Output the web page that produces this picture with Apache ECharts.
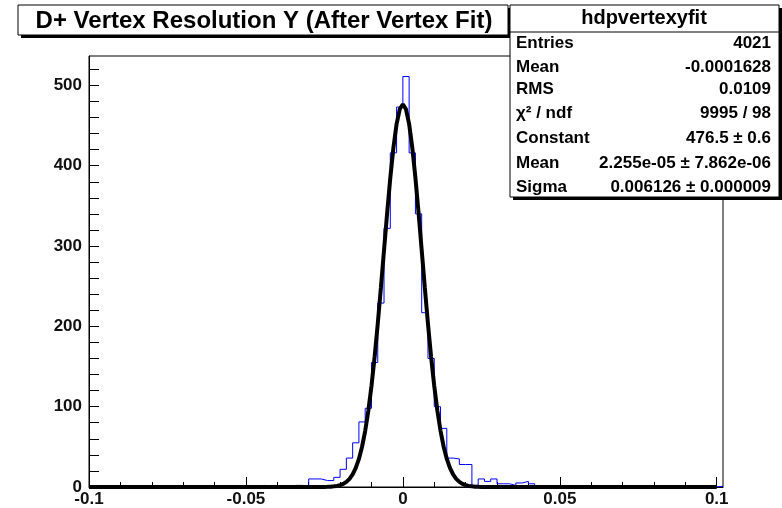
<!DOCTYPE html>
<html><head><meta charset="utf-8">
<script src="https://cdn.jsdelivr.net/npm/echarts@6/dist/echarts.min.js"></script>
<style>html,body{margin:0;padding:0;background:#fff}#c{width:782px;height:508px}</style>
</head><body><div id="c"></div>
<script>
const titleText = 'D+ Vertex Resolution Y (After Vertex Fit)';
const statsTitle = 'hdpvertexyfit';
const statsLabels = ['Entries', 'Mean', 'RMS', '\u03c7\u00b2 / ndf', 'Constant', 'Mean', 'Sigma'];
const statsValues = ['4021', '-0.0001628', '0.0109', '9995 / 98', '476.5 \u00b1 0.6', '2.255e-05 \u00b1 7.862e-06', '0.006126 \u00b1 0.000009'];

// histogram: 101 bins of width 0.002 starting at -0.1
const binLow = -0.1;
const binWidth = 0.002;
const counts = [
  0,0,0,0,0,0,0,0,0,0,
  0,0,0,0,1,0,0,0,0,0,
  0,0,0,0,0,0,0,2,0,2,
  0,0,2,2,0,10,10,8,8,12,
  22,36,55,81,98,155,229,322,416,473,
  511,416,340,217,160,100,73,36,35,28,
  28,2,10,7,10,4,4,2,5,7,
  4,0,0,0,0,0,0,0,0,0,
  0,0,0,0,0,0,0,0,0,0,
  0,0,0,0,0,0,0,0,0,0,
  1
];

// gaussian fit curve
const fitX = [-0.1,
  -0.026,-0.025,-0.024,-0.023,-0.022,-0.021,-0.020,-0.019,-0.018,-0.017,-0.016,-0.015,-0.014,
  -0.013,-0.012,-0.011,-0.010,-0.009,-0.008,-0.007,-0.006,-0.005,-0.004,-0.003,-0.002,-0.001,
  0,
  0.001,0.002,0.003,0.004,0.005,0.006,0.007,0.008,0.009,0.010,0.011,0.012,0.013,
  0.014,0.015,0.016,0.017,0.018,0.019,0.020,0.021,0.022,0.023,0.024,0.025,0.026,
  0.1];
const fitY = [0,
  0,0.1,0.2,0.4,0.8,1.3,2.3,3.9,6.4,10.1,15.7,23.8,35.0,
  50.1,70.0,95.0,125.7,161.9,203.1,248.0,294.9,341.5,385.0,422.7,451.8,470.2,
  476.5,
  470.2,451.8,422.7,385.0,341.5,294.9,248.0,203.1,161.9,125.7,95.0,70.0,50.1,
  35.0,23.8,15.7,10.1,6.4,3.9,2.3,1.3,0.8,0.4,0.2,0.1,0,
  0];

const xMajor = [-0.1, -0.05, 0, 0.05, 0.1];
const xMinor = [-0.09,-0.08,-0.07,-0.06,-0.04,-0.03,-0.02,-0.01,0.01,0.02,0.03,0.04,0.06,0.07,0.08,0.09];
const yLabels = [0, 100, 200, 300, 400, 500];
const yTicks = [0,20,40,60,80,100,120,140,160,180,200,220,240,260,280,300,320,340,360,380,400,420,440,460,480,500,520];

const FONT = 'Liberation Sans, Arial, sans-serif';

const histData = [];
for (let i = 0; i < counts.length; i++) histData.push([binLow + i * binWidth, counts[i]]);
histData.push([binLow + counts.length * binWidth, counts[counts.length - 1]]);
const fitData = fitX.map((x, i) => [x, fitY[i]]);
const xMax = binLow + counts.length * binWidth;

const graphics = [
  {type:'rect', z:100, shape:{x:21, y:8, width:490, height:30}, style:{fill:'#000'}},
  {type:'rect', z:101, shape:{x:18, y:5, width:490, height:30}, style:{fill:'#fff', stroke:'#000', lineWidth:1}},
  {type:'text', z:102, x:264, y:21, style:{text:titleText, font:'bold 24px ' + FONT, fill:'#000', align:'center', verticalAlign:'middle'}},
  {type:'rect', z:100, shape:{x:513, y:8, width:269, height:192}, style:{fill:'#000'}},
  {type:'rect', z:101, shape:{x:510, y:5, width:269, height:192}, style:{fill:'#fff', stroke:'#000', lineWidth:1}},
  {type:'line', z:102, shape:{x1:510, y1:32, x2:779, y2:32}, style:{stroke:'#000', lineWidth:1}},
  {type:'text', z:102, x:644, y:18, style:{text:statsTitle, font:'bold 20px ' + FONT, fill:'#000', align:'center', verticalAlign:'middle'}}
];
const rowY = [43, 67, 89, 113, 138, 163, 187];
statsLabels.forEach((t, i) => {
  graphics.push({type:'text', z:102, x:516, y:rowY[i], style:{text:t, font:'bold 17px ' + FONT, fill:'#000', align:'left', verticalAlign:'middle'}});
  graphics.push({type:'text', z:102, x:771, y:rowY[i], style:{text:statsValues[i], font:'bold 17px ' + FONT, fill:'#000', align:'right', verticalAlign:'middle'}});
});

const chart = echarts.init(document.getElementById('c'), null, {renderer:'canvas'});
chart.setOption({
  animation: false,
  backgroundColor: '#fff',
  grid: {left:89, right:59, top:56, bottom:21, show:true, borderColor:'#000', borderWidth:1, backgroundColor:'#fff'},
  xAxis: [{
    type:'value', min:binLow, max:xMax, position:'bottom',
    axisLine:{show:true, onZero:false, lineStyle:{color:'#000', width:1}},
    axisTick:{show:true, inside:true, length:10, customValues:xMajor, lineStyle:{color:'#000'}},
    axisLabel:{show:true, customValues:xMajor, margin:4, color:'#111', fontSize:17, fontWeight:'bold', fontFamily:FONT},
    splitLine:{show:false}
  }, {
    type:'value', min:binLow, max:xMax, position:'bottom',
    axisLine:{show:false, onZero:false},
    axisTick:{show:true, inside:true, length:5, customValues:xMinor, lineStyle:{color:'#000'}},
    axisLabel:{show:false},
    splitLine:{show:false}
  }],
  yAxis: {
    type:'value', min:0, max:536.55, position:'left',
    axisLine:{show:true, onZero:false, lineStyle:{color:'#000', width:1}},
    axisTick:{show:true, inside:true, length:10, customValues:yTicks, lineStyle:{color:'#000'}},
    axisLabel:{show:true, customValues:yLabels, margin:7, color:'#111', fontSize:17, fontWeight:'bold', fontFamily:FONT},
    splitLine:{show:false}
  },
  series: [{
    type:'line', xAxisIndex:0, step:'end', data:histData, showSymbol:false, symbol:'none',
    lineStyle:{color:'#0000ff', width:1}, z:3
  }, {
    type:'line', xAxisIndex:0, data:fitData, showSymbol:false, symbol:'none', clip:false,
    lineStyle:{color:'#000', width:4}, z:4
  }],
  graphic: graphics
});
</script>
</body></html>
